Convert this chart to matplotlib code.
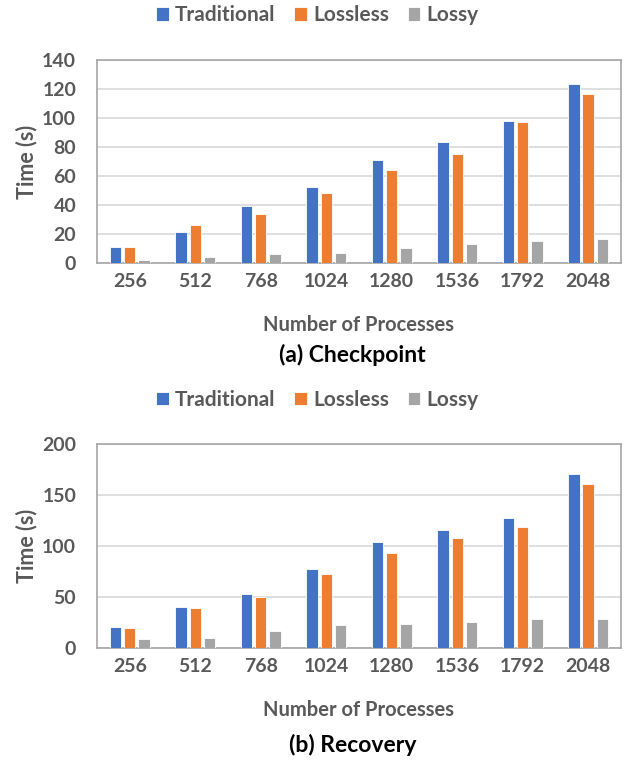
import numpy as np
import matplotlib
matplotlib.use("Agg")
import matplotlib.pyplot as plt

plt.rcParams['font.family'] = ['Lato', 'DejaVu Sans']

procs = ["256", "512", "768", "1024", "1280", "1536", "1792", "2048"]
series = ["Traditional", "Lossless", "Lossy"]
colors = ["#4472C4", "#ED7D31", "#A5A5A5"]

# checkpoint times (s)
ckpt_trad = [11.0, 21.6, 39.6, 52.7, 71.0, 83.1, 97.8, 123.2]
ckpt_lossless = [10.8, 26.4, 33.9, 48.1, 64.1, 74.9, 97.1, 116.8]
ckpt_lossy = [2.3, 3.9, 6.0, 6.9, 10.1, 12.8, 14.9, 16.5]

# recovery times (s)
rec_trad = [20.3, 40.3, 53.4, 77.3, 103.5, 115.6, 127.7, 170.6]
rec_lossless = [19.7, 39.0, 50.1, 73.0, 93.3, 107.7, 118.5, 160.8]
rec_lossy = [8.5, 9.5, 17.0, 22.3, 23.6, 25.9, 28.2, 28.9]

txt = "#595959"
fig = plt.figure(figsize=(6.35, 7.65), dpi=100)

# data, ymax, ystep, title, axes rect, legend y, xlabel y, title y
panels = [
    ([ckpt_trad, ckpt_lossless, ckpt_lossy], 140, 20, "(a) Checkpoint",
     [0.1528, 0.6562, 0.825, 0.2654], 0.980, 0.575, 0.536),
    ([rec_trad, rec_lossless, rec_lossy], 200, 50, "(b) Recovery",
     [0.1528, 0.1529, 0.825, 0.2667], 0.477, 0.072, 0.026),
]

x = np.arange(len(procs))
w = 0.173
step = 0.218
for data, ymax, ystep, title, rect, legy, xly, ty in panels:
    ax = fig.add_axes(rect)
    for i, (vals, name, c) in enumerate(zip(data, series, colors)):
        ax.bar(x + (i - 1) * step, vals, w, color=c, label=name,
               edgecolor="white", linewidth=0.6, zorder=3)
    ax.set_xlim(-0.5, len(procs) - 0.5)
    ax.set_ylim(0, ymax)
    ax.set_yticks(np.arange(0, ymax + 1, ystep))
    ax.set_xticks(x)
    ax.set_xticklabels(procs)
    ax.grid(axis="y", color="#D9D9D9", linewidth=1.2, zorder=0)
    for s in ax.spines.values():
        s.set_color("#A6A6A6")
        s.set_linewidth(1.2)
    ax.tick_params(length=0, labelsize=14, colors=txt)
    ax.tick_params(axis="y", pad=15)
    ax.tick_params(axis="x", pad=7)
    for lab in ax.get_xticklabels() + ax.get_yticklabels():
        lab.set_fontweight("bold")
    cy = rect[1] + rect[3] / 2
    fig.text(0.042, cy, "Time (s)", rotation=90, ha="center", va="center",
             fontsize=15.5, fontweight="bold", color=txt)
    fig.text(rect[0] + rect[2] / 2, xly, "Number of Processes", ha="center",
             va="center", fontsize=14.5, fontweight="bold", color=txt)
    fig.text(0.555, ty, title, ha="center", va="center", fontsize=16.5,
             fontweight="bold", color="black")
    leg = fig.legend(*ax.get_legend_handles_labels(), loc="center",
                     bbox_to_anchor=(0.5, legy), ncol=3, frameon=False,
                     fontsize=15, handlelength=0.6, handleheight=0.6,
                     handletextpad=0.3, columnspacing=0.9)
    for t in leg.get_texts():
        t.set_color(txt)
        t.set_fontweight("bold")

fig.savefig("out.png", dpi=100)
